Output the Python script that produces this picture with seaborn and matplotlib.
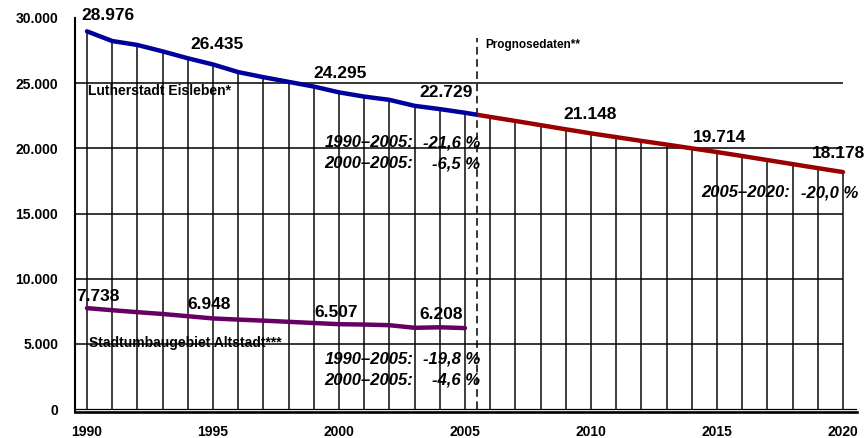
import numpy as np
import pandas as pd
import matplotlib.pyplot as plt
from matplotlib.patches import Rectangle
import seaborn as sns


# --- data ---
years_hist = list(range(1990, 2006))
eisleben = [28976, 28234, 27930, 27440, 26910, 26435, 25850, 25460,
            25100, 24740, 24295, 23970, 23720, 23260, 23010, 22729]
altstadt = [7738, 7580, 7430, 7290, 7120, 6948, 6860, 6780,
            6690, 6600, 6507, 6480, 6430, 6230, 6270, 6208]

years_prog = list(range(2005, 2021))
eisleben_prog = [22729, 22410, 22100, 21780, 21460, 21148, 20860, 20570,
                 20290, 20000, 19714, 19410, 19100, 18790, 18480, 18178]

labels_e = [1990, 1995, 2000, 2005, 2010, 2015, 2020]
labels_a = [1990, 1995, 2000, 2005]

stats_e = [('1990–2005:', '-21,6 %'), ('2000–2005:', '-6,5 %')]
stats_a = [('1990–2005:', '-19,8 %'), ('2000–2005:', '-4,6 %')]
stats_p = [('2005–2020:', '-20,0 %')]

y_ticks = [0, 5000, 10000, 15000, 20000, 25000, 30000]
x_ticks = [1990, 1995, 2000, 2005, 2010, 2015, 2020]

# --- styling ---
sns.set_theme(style='white')
plt.rcParams['font.family'] = ['Liberation Sans', 'DejaVu Sans']
plt.rcParams.update({'text.color': 'black', 'xtick.color': 'black',
                     'ytick.color': 'black', 'axes.labelcolor': 'black'})

BLUE = '#00009c'
RED = '#9a0000'
PURPLE = '#660062'
SPLIT = 2005.48

df = pd.DataFrame({'year': years_hist + years_prog[1:],
                   'einwohner': eisleben + eisleben_prog[1:]})
df_a = pd.DataFrame({'year': years_hist, 'einwohner': altstadt})


def fmt(v):
    return f'{v:,}'.replace(',', '.')


fig = plt.figure(figsize=(8.64, 4.38), dpi=100)
ax = fig.add_axes([75 / 864, 1 - 412 / 438, 782 / 864, 394 / 438])
ax.set(xlim=(1989.524, 2020.556), ylim=(-230, 30000))

# drop lines from the Eisleben curve + horizontal grid
ax.vlines(df['year'], 0, df['einwohner'], color='#1e1e1e', lw=1.2, zorder=1)
ax.hlines(y_ticks[1:-1], 1989.524, 2020, color='black', lw=1.1, zorder=1)
ax.hlines(0, 1989.524, 2020.556, color='black', lw=0.9, zorder=1)

# forecast marker
ax.plot([SPLIT, SPLIT], [0, 28460], color='black', lw=1.1, ls=(0, (5, 3)), zorder=2)

# Eisleben: one curve, blue before the split, red after
sns.lineplot(data=df, x='year', y='einwohner', ax=ax, color=BLUE, lw=3.2, zorder=3)
ax.lines[-1].set_clip_path(Rectangle((1980, -1000), SPLIT - 1980, 40000, transform=ax.transData))
sns.lineplot(data=df, x='year', y='einwohner', ax=ax, color=RED, lw=3.2, zorder=3)
ax.lines[-1].set_clip_path(Rectangle((SPLIT, -1000), 30, 40000, transform=ax.transData))

sns.lineplot(data=df_a, x='year', y='einwohner', ax=ax, color=PURPLE, lw=3.2, zorder=3)

# value labels
offs_e = [(21, 11), (4, 15.5), (1.5, 14.7), (-19, 16), (-1, 14.4), (2.5, 10), (-4, 14.5)]
offs_a = [(11, 7), (-4, 9), (-3, 7), (-24, 9)]
ser_e = df.set_index('year')['einwohner']
ser_a = df_a.set_index('year')['einwohner']
for yr, off in zip(labels_e, offs_e):
    ax.annotate(fmt(ser_e[yr]), xy=(yr, ser_e[yr]), xytext=off, textcoords='offset pixels',
                ha='center', va='baseline', fontsize=12.5, fontweight='bold', zorder=5)
for yr, off in zip(labels_a, offs_a):
    ax.annotate(fmt(ser_a[yr]), xy=(yr, ser_a[yr]), xytext=off, textcoords='offset pixels',
                ha='center', va='baseline', fontsize=12.5, fontweight='bold', zorder=5)

# series names
ax.text(1990.04, 24077, 'Lutherstadt Eisleben*', fontsize=10, fontweight='bold', va='baseline', zorder=5)
ax.text(1990.08, 4770, 'Stadtumbaugebiet Altstadt***', fontsize=10, fontweight='bold', va='baseline', zorder=5)
ax.text(2005.82, 27690, 'Prognosedaten**', fontsize=8.5, fontweight='bold', va='baseline', zorder=5)

# change rates
def put_stats(rows, x_left, x_right, y0, dy=1600):
    for i, (period, rate) in enumerate(rows):
        y = y0 - i * dy
        ax.text(x_left, y, period, ha='right', va='baseline', fontsize=12,
                fontweight='bold', style='italic', zorder=5)
        ax.text(x_right, y, rate, ha='right', va='baseline', fontsize=12,
                fontweight='bold', style='italic', zorder=5)


put_stats(stats_e, 2002.94, 2005.6, 20077)
put_stats(stats_a, 2002.94, 2005.6, 3460)
put_stats(stats_p, 2017.9, 2020.6, 16230)

# axes
ax.set_xticks(x_ticks, labels=[str(t) for t in x_ticks])
ax.set_yticks(y_ticks, labels=[fmt(t) for t in y_ticks])
ax.tick_params(length=0, labelsize=10)
ax.tick_params(axis='y', pad=12)
ax.tick_params(axis='x', pad=9)
for lab in ax.get_xticklabels() + ax.get_yticklabels():
    lab.set_fontweight('bold')
ax.set(xlabel=None, ylabel=None)
for s in ['top', 'right']:
    ax.spines[s].set_visible(False)
ax.spines['left'].set_linewidth(1.5)
ax.spines['bottom'].set_linewidth(1.9)
ax.spines['left'].set_color('black')
ax.spines['bottom'].set_color('black')

fig.savefig('out.png', dpi=100)
